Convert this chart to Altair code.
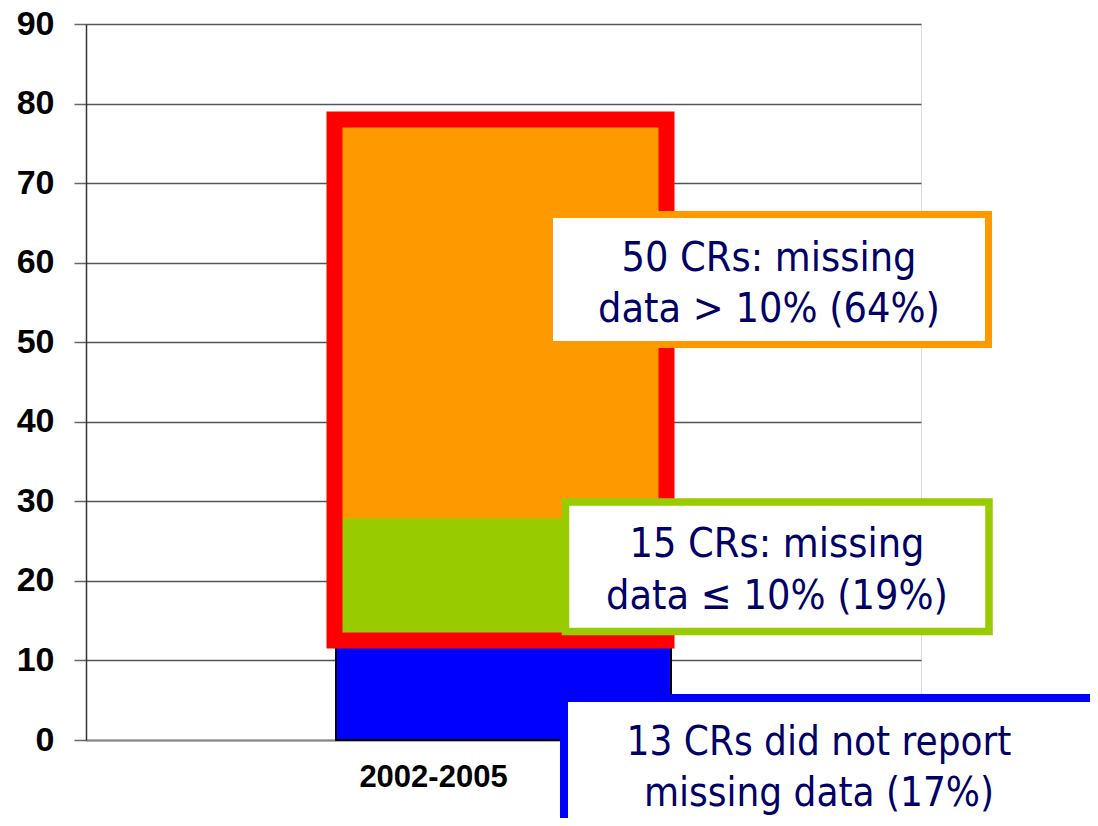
import altair as alt
import pandas as pd

# ---- data ----
period = ["2002-2005", "2002-2005", "2002-2005"]
segments = ["did not report missing data", "missing data <= 10%", "missing data > 10%"]
counts = [13, 15, 50]
seg_colors = ["#0000ff", "#99cc00", "#ff9900"]
seg_strokes = ["#000000", "#99cc00", "#ff9900"]
highlight_low = [12.5]
highlight_high = [78]
highlight_period = ["2002-2005"]
y_ticks = [0, 10, 20, 30, 40, 50, 60, 70, 80, 90]
note_orange = ["50 CRs: missing\ndata > 10% (64%)"]
note_green = ["15 CRs: missing\ndata \u2264 10% (19%)"]
note_blue = ["13 CRs did not report\nmissing data (17%)"]

# stacked table
bottoms, tops, acc = [], [], 0
for c in counts:
    bottoms.append(acc)
    acc += c
    tops.append(acc)
df = pd.DataFrame({"period": period, "segment": segments, "y0": bottoms, "y1": tops})
hl = pd.DataFrame({"period": highlight_period, "lo": highlight_low, "hi": highlight_high})

W, H = 835, 716
yscale = alt.Scale(domain=[0, 90], nice=False, zero=True)
xscale = alt.Scale(domain=["2002-2005"])

x_axis = alt.Axis(title=None, ticks=False, labelAngle=0, labelFont="Liberation Sans",
                  labelFontWeight="bold", labelFontSize=31, labelColor="black",
                  labelPadding=46, labelBaseline="alphabetic", labelOffset=-70,
                  domainColor="#8a8a8a", domainWidth=2, grid=False)
y_axis = alt.Axis(title=None, values=y_ticks, labelFont="Liberation Sans", labelFontWeight="bold",
                  labelFontSize=34, labelColor="black", tickSize=12, tickColor="#666666",
                  tickWidth=1.5, labelPadding=20, domainColor="#333333", domainWidth=1.5,
                  gridColor="#555555", gridWidth=1.5)

bars = alt.Chart(df).mark_bar(size=335, strokeWidth=2).encode(
    x=alt.X("period:N", scale=xscale, axis=x_axis),
    y=alt.Y("y0:Q", scale=yscale, axis=y_axis),
    y2="y1:Q",
    color=alt.Color("segment:N", scale=alt.Scale(domain=segments, range=seg_colors), legend=None),
    stroke=alt.Stroke("segment:N", scale=alt.Scale(domain=segments, range=seg_strokes), legend=None),
)

frame = alt.Chart(hl).mark_bar(size=332, xOffset=-3, fillOpacity=0, stroke="#ff0000",
                               strokeWidth=16, strokeJoin="miter").encode(
    x=alt.X("period:N", scale=xscale),
    y=alt.Y("lo:Q", scale=yscale),
    y2="hi:Q",
)

FONT = "DejaVu Sans Condensed, DejaVu Sans"
TXT = "#000066"


def note(texts, color, sw, bx, bx2, by, by2, tx, ty, lh, fs=41):
    d = pd.DataFrame({"label": texts})
    box = alt.Chart(d).mark_rect(fill="white", stroke=color, strokeWidth=sw).encode(
        x=alt.value(bx), x2=alt.value(bx2), y=alt.value(by), y2=alt.value(by2))
    txt = alt.Chart(d).mark_text(lineBreak="\n", align="center", baseline="alphabetic",
                                 font=FONT, fontSize=fs, lineHeight=lh, color=TXT).encode(
        text="label:N", x=alt.value(tx), y=alt.value(ty))
    return box + txt


# view coordinates: view top = page y 24, view left = page x 86
n1 = note(note_orange, "#ff9900", 7, 463.5, 902.5, 190.5, 320.5, 683, 247, 51)
n2 = note(note_green, "#99cc00", 7.5, 479.5, 903, 478, 607.5, 691, 533, 52)
n3 = note(note_blue, "#0000ff", 8, 478, 1040, 674, 820, 733, 731, 51, fs=40)

chart = alt.layer(bars, frame, n1, n2, n3).properties(
    width=W, height=H,
    autosize=alt.AutoSizeParams(type="none"),
    padding={"left": 78, "top": 16, "right": 169, "bottom": 78},
).configure_view(stroke="#8c8c8c", strokeWidth=3).configure(background="white")

chart.save("out.html", embed_options={"renderer": "svg", "actions": False})
